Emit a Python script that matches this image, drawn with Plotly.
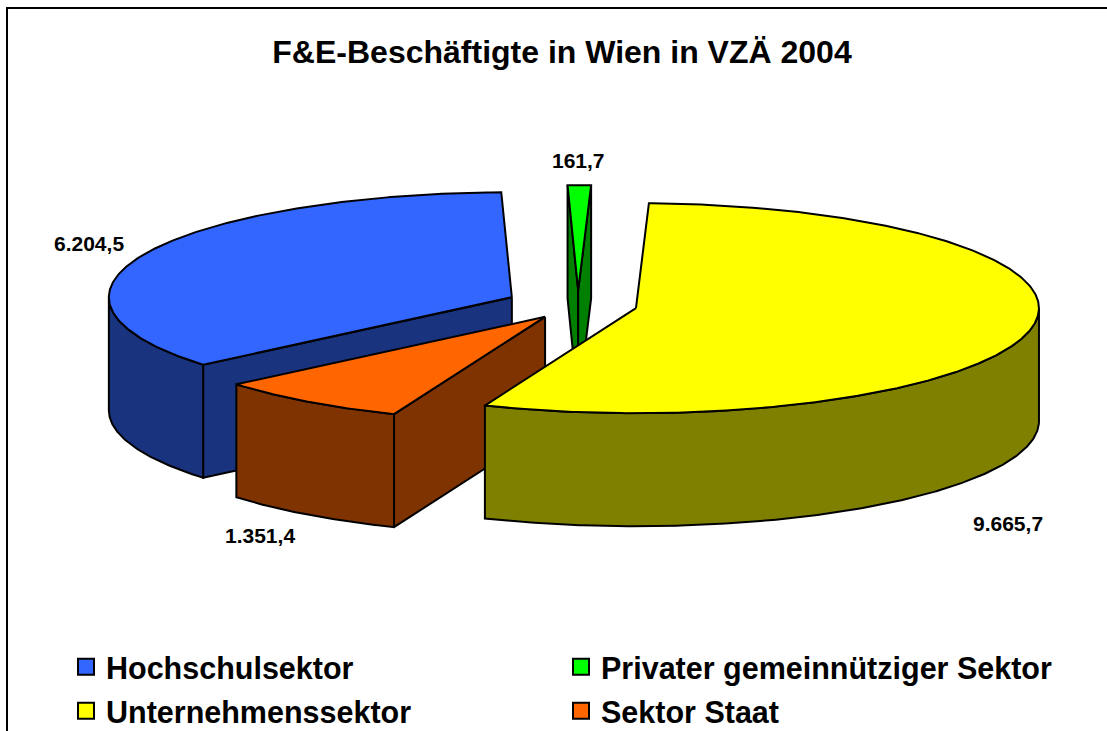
import numpy as np
import plotly.graph_objects as go

# ---------------- data ----------------
categories = ["Hochschulsektor", "Privater gemeinnütziger Sektor", "Unternehmenssektor", "Sektor Staat"]
values = [6204.5, 161.7, 9665.7, 1351.4]
value_labels = ["6.204,5", "161,7", "9.665,7", "1.351,4"]
title_text = "F&E-Beschäftigte in Wien in VZÄ 2004"

# ---------------- styles ----------------
top_colors = ["#3366FF", "#00FF00", "#FFFF00", "#FF6600"]
side_colors = ["#1A337F", "#008000", "#808000", "#7F3300"]
FONT = "Liberation Sans, Arial, sans-serif"

# geometry of the 3-D pie (layout units)
W, H = 1107, 731
CX, CY = 578, 305
RX, RY = 403, 105
DEPTH = 113
START_ANGLE = 230.0           # degrees, clockwise from 12 o'clock
EXPLODE = [0.18, 0.14, 0.147, 0.139]
LABEL_XY = [(89, 243), (578, 160), (1008, 523), (260, 535)]
SIDE_ORDER = [1, 0, 3, 2]

# ---------------- geometry ----------------
vals = np.array(values, dtype=float)
spans = vals / vals.sum() * 360.0
starts = START_ANGLE + np.concatenate([[0], np.cumsum(spans)[:-1]])
ends = starts + spans


def rad(d):
    return np.deg2rad(d)


def apex(i):
    mid = (starts[i] + ends[i]) / 2
    return (CX + EXPLODE[i] * RX * np.sin(rad(mid)), CY - EXPLODE[i] * RY * np.cos(rad(mid)))


def arc(A, a, b, dy=0.0):
    n = max(2, int(abs(b - a) / 0.5) + 2)
    t = np.linspace(a, b, n)
    return A[0] + RX * np.sin(rad(t)), A[1] - RY * np.cos(rad(t)) + dy


def poly(xs, ys, color):
    xs = list(xs) + [xs[0]]
    ys = list(ys) + [ys[0]]
    return go.Scatter(x=xs, y=ys, mode="lines", fill="toself", fillcolor=color,
                      line=dict(color="black", width=2), hoverinfo="skip", showlegend=False)


fig = go.Figure()

# side faces (back to front)
for i in SIDE_ORDER:
    A = apex(i)
    a, b = starts[i], ends[i]
    if np.sin(rad(a)) < -1e-9:
        px, py = A[0] + RX * np.sin(rad(a)), A[1] - RY * np.cos(rad(a))
        fig.add_trace(poly([A[0], px, px, A[0]], [A[1], py, py + DEPTH, A[1] + DEPTH], side_colors[i]))
    if np.sin(rad(b)) > 1e-9:
        px, py = A[0] + RX * np.sin(rad(b)), A[1] - RY * np.cos(rad(b))
        fig.add_trace(poly([A[0], px, px, A[0]], [A[1], py, py + DEPTH, A[1] + DEPTH], side_colors[i]))
    for k in range(0, 3):
        lo, hi = 90 + 360 * k, 270 + 360 * k
        s, e = max(a, lo), min(b, hi)
        if e > s:
            tx, ty = arc(A, s, e)
            bx, by = arc(A, e, s, DEPTH)
            fig.add_trace(poly(np.concatenate([tx, bx]), np.concatenate([ty, by]), side_colors[i]))

# top faces
for i in range(len(values)):
    A = apex(i)
    tx, ty = arc(A, starts[i], ends[i])
    fig.add_trace(poly(np.concatenate([[A[0]], tx]), np.concatenate([[A[1]], ty]), top_colors[i]))

# legend entries (two rows, two columns)
for i, name in enumerate(categories):
    fig.add_trace(go.Scatter(
        x=[None], y=[None], mode="markers", name=name,
        marker=dict(symbol="square", size=16, color=top_colors[i], line=dict(color="black", width=2)),
        legend="legend" if i < 2 else "legend2"))

# value labels
for i, lab in enumerate(value_labels):
    fig.add_annotation(x=LABEL_XY[i][0], y=LABEL_XY[i][1], text=lab, showarrow=False,
                       font=dict(family=FONT, size=21, color="black", weight="bold"),
                       xanchor="center", yanchor="middle")

# chart frame
fig.add_shape(type="rect", xref="paper", yref="paper", x0=7 / W, y0=-0.1, x1=1.1, y1=1 - 8 / H,
              line=dict(color="black", width=2), fillcolor="rgba(0,0,0,0)", layer="below")

leg_common = dict(orientation="h", xanchor="left", yanchor="middle",
                  font=dict(family=FONT, size=30.5, color="black", weight="bold"),
                  entrywidth=450, entrywidthmode="pixels", bgcolor="rgba(0,0,0,0)",
                  itemclick=False, itemdoubleclick=False)

fig.update_layout(
    width=W, height=H,
    margin=dict(l=0, r=0, t=0, b=0, autoexpand=False),
    paper_bgcolor="white", plot_bgcolor="white",
    title=dict(text=title_text, x=562 / W, xanchor="center", y=1 - 52 / H, yanchor="middle",
               font=dict(family=FONT, size=32, color="black", weight="bold")),
    xaxis=dict(range=[0, W], visible=False, fixedrange=True),
    yaxis=dict(range=[H, 0], visible=False, fixedrange=True),
    legend=dict(x=66 / W, y=1 - 667 / H, **leg_common),
    legend2=dict(x=66 / W, y=1 - 711 / H, **leg_common),
    showlegend=True,
)

fig.write_html("out.html", config={"displayModeBar": False},
               post_script="document.body.style.margin='0';")
